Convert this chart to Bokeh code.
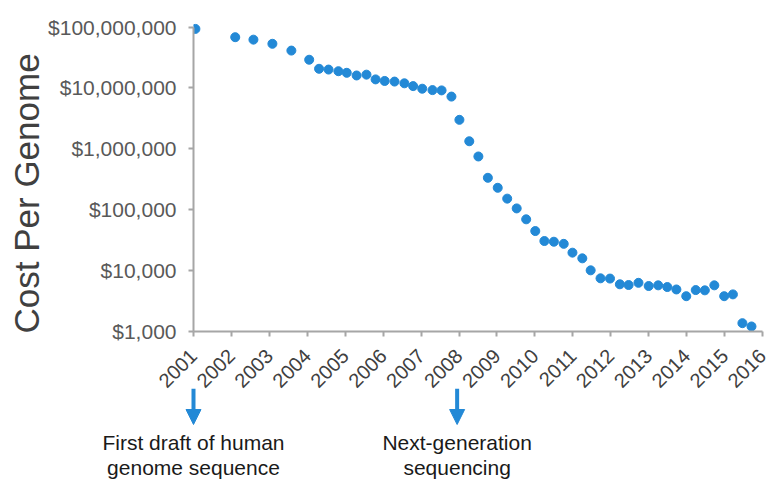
import math
from bokeh.plotting import figure
from bokeh.layouts import column
from bokeh.models import (Range1d, FixedTicker, NumeralTickFormatter, Label, Arrow,
                          NormalHead, Title)
from bokeh.embed import file_html
from bokeh.resources import INLINE

# ---- data ----
years = [2001.05, 2002.10, 2002.58, 2003.08, 2003.58, 2004.05, 2004.31, 2004.56,
         2004.82, 2005.04, 2005.30, 2005.56, 2005.80, 2006.04, 2006.30, 2006.56,
         2006.79, 2007.03, 2007.30, 2007.54, 2007.80, 2008.01, 2008.27, 2008.51,
         2008.76, 2009.02, 2009.27, 2009.52, 2009.77, 2010.01, 2010.25, 2010.50,
         2010.76, 2010.99, 2011.25, 2011.47, 2011.73, 2011.98, 2012.24, 2012.47,
         2012.73, 2013.00, 2013.25, 2013.49, 2013.73, 2013.99, 2014.24, 2014.48,
         2014.73, 2014.99, 2015.22, 2015.47, 2015.71]
cost = [93e6, 68e6, 62e6, 53e6, 41e6, 29e6, 20.6e6, 20e6,
        18.8e6, 17.7e6, 16.0e6, 16.5e6, 13.8e6, 13.0e6, 12.7e6, 11.9e6,
        10.7e6, 9.7e6, 9.2e6, 9.1e6, 7.2e6, 2.99e6, 1.33e6, 748e3,
        334e3, 229e3, 152e3, 105e3, 69.5e3, 44.6e3, 30.6e3, 29.8e3,
        27.5e3, 19.7e3, 15.9e3, 10.1e3, 7470, 7400, 5960, 5800,
        6300, 5580, 5730, 5370, 4900, 3800, 4790, 4740,
        5730, 3800, 4070, 1370, 1210]
x_ticks = list(range(2001, 2017))
y_ticks = [1e3, 1e4, 1e5, 1e6, 1e7, 1e8]
y_label = "Cost Per Genome"
note_years = [2001.0, 2007.95]
note_texts = [["First draft of human", "genome sequence"],
              ["Next-generation", "sequencing"]]

# ---- layout / style ----
BLUE = "#2389d6"
FONT = "Liberation Sans"
W = 771
H1, H2, OVERLAP = 400, 92, 12
LEFT, RIGHT = 193, 9
FRAME_TOP, FRAME_BOTTOM = 20, 331
PX_DEC = 60.9
top_pad = (FRAME_BOTTOM - FRAME_TOP) / PX_DEC - (len(y_ticks) - 1)
y_top = y_ticks[-1] * 10 ** top_pad

p = figure(width=W, height=H1, x_range=Range1d(x_ticks[0], x_ticks[-1]),
           y_range=Range1d(y_ticks[0], y_top), y_axis_type="log",
           output_backend="svg", toolbar_location=None,
           min_border_left=LEFT, min_border_right=RIGHT,
           min_border_top=FRAME_TOP, min_border_bottom=H1 - FRAME_BOTTOM)
p.outline_line_color = None
p.grid.visible = False
p.frame_align = False

# y axis
ya = p.yaxis[0]
ya.ticker = FixedTicker(ticks=y_ticks)
ya.formatter = NumeralTickFormatter(format="$0,0")
ya.bounds = (y_ticks[0], y_ticks[-1])
ya.major_label_text_font = FONT
ya.major_label_text_font_size = "21px"
ya.major_label_text_color = "#595959"
ya.major_label_standoff = 12

p.add_layout(Title(text=y_label, align="left", offset=-2, standoff=0,
                   text_font=FONT, text_font_size="35px", text_font_style="normal",
                   text_color="#404040"), "left")

# x axis
xa = p.xaxis[0]
xa.ticker = FixedTicker(ticks=x_ticks)
xa.major_label_orientation = math.pi / 4
xa.major_label_text_font = FONT
xa.major_label_text_font_size = "20px"
xa.major_label_text_color = "#404040"
xa.major_label_standoff = 16

for ax in (xa, ya):
    ax.axis_line_color = "#a6a6a6"
    ax.axis_line_width = 2
    ax.major_tick_line_color = "#a6a6a6"
    ax.major_tick_line_width = 2
    ax.major_tick_out = 5
    ax.major_tick_in = 0
    ax.minor_tick_line_color = None

p.scatter(years, cost, size=9, fill_color=BLUE, line_color=BLUE)

# ---- annotation strip below the chart, same year scale, full-width frame ----
px_year = (W - LEFT - RIGHT) / (x_ticks[-1] - x_ticks[0])
x0 = x_ticks[0] - LEFT / px_year
x1 = x_ticks[-1] + RIGHT / px_year
p2 = figure(width=W, height=H2, x_range=Range1d(x0, x1), y_range=Range1d(0, H2),
            x_axis_location=None, y_axis_location=None,
            output_backend="svg", toolbar_location=None,
            min_border_left=0, min_border_right=0, min_border_top=0, min_border_bottom=0)
p2.outline_line_color = None
p2.grid.visible = False
p2.frame_align = False
p2.background_fill_alpha = 0
p2.border_fill_alpha = 0
p2.margin = (-OVERLAP, 0, 0, 0)

ARROW_TOP, ARROW_TIP = 0, 36      # pixels below the strip's top
LINE_POS = [54, 79]
for xv, lines in zip(note_years, note_texts):
    p2.add_layout(Arrow(end=NormalHead(size=15, fill_color=BLUE, line_color=BLUE, line_width=1),
                        x_start=xv, x_end=xv, y_start=H2 - ARROW_TOP, y_end=H2 - ARROW_TIP,
                        line_color=BLUE, line_width=4))
    for pos, t in zip(LINE_POS, lines):
        p2.add_layout(Label(x=xv, y=H2 - pos, text=t,
                            text_align="center", text_baseline="middle",
                            text_font=FONT, text_font_size="21px",
                            text_color="#1a1a1a"))

layout = column(p, p2, spacing=0)
open("out.html", "w").write(file_html(layout, INLINE))
